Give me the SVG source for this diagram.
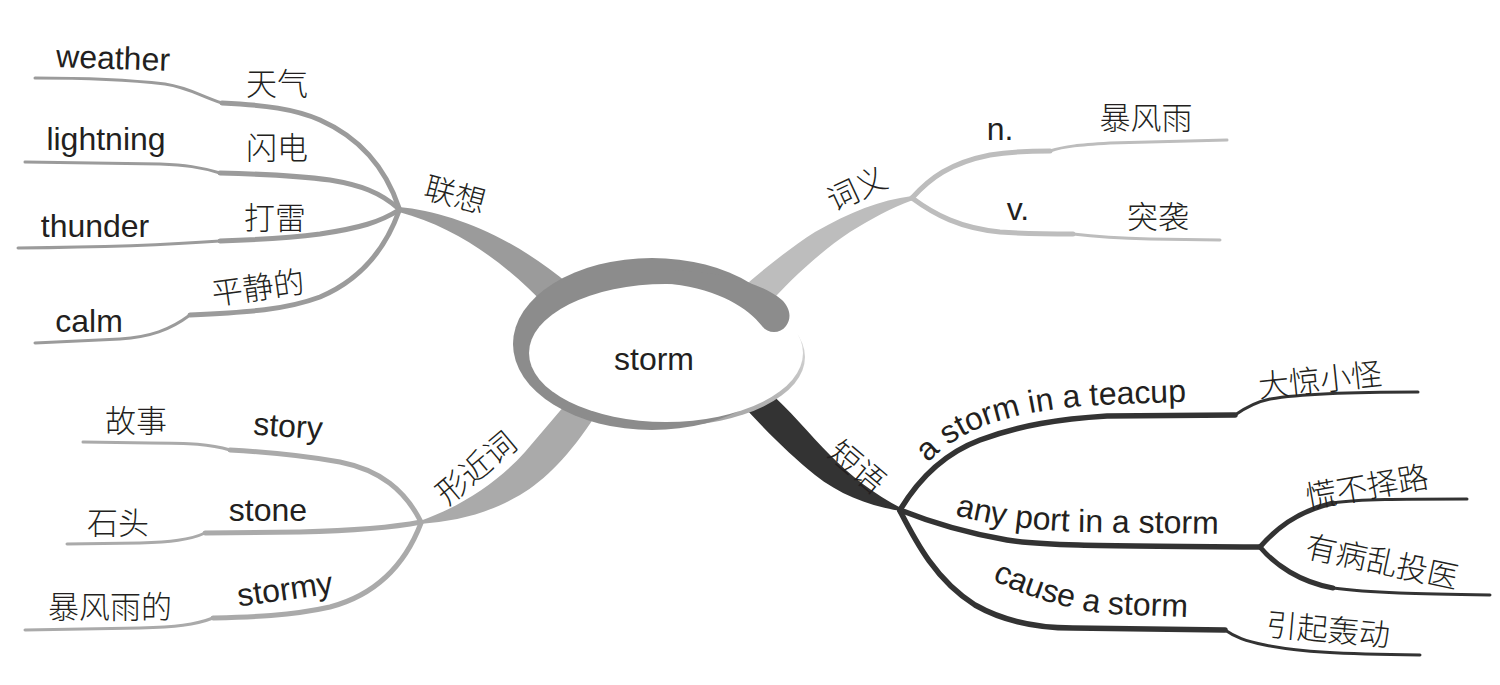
<svg xmlns="http://www.w3.org/2000/svg" width="1500" height="685" viewBox="0 0 1500 685">
<defs>
<linearGradient id="edge" x1="0" y1="1" x2="1" y2="0">
<stop offset="0" stop-color="#8a8a8a"/>
<stop offset="0.55" stop-color="#b5b5b5"/>
<stop offset="1" stop-color="#eeeeee"/>
</linearGradient>
</defs>
<style>
.en{font-family:"Liberation Sans",Arial,sans-serif;font-size:32px;fill:#231f20}
.zh{font-family:"Noto Sans CJK SC","Noto Sans",sans-serif;font-size:31px;font-weight:300;fill:#231f20;text-anchor:middle}
.ctr{text-anchor:middle}
.lx{fill:none;stroke:#9b9b9b;stroke-linecap:round}
.xj{fill:none;stroke:#aaaaaa;stroke-linecap:round}
.cy{fill:none;stroke:#bdbdbd;stroke-linecap:round}
.dy{fill:none;stroke:#333333;stroke-linecap:round}
.w1{stroke-width:5}
.w2{stroke-width:3}
.w3{stroke-width:5.5}
</style>

<g id="connectors">
<!-- main branches -->
<path d="M399,207 C450,212 510,235 570,285 L545,305 C510,268 460,228 399,212 Z" fill="#9b9b9b"/>
<path d="M420,521 C465,505 500,480 525,452 L565,405 L595,416 C570,455 545,480 520,495 C485,515 455,521 420,524 Z" fill="#aaaaaa"/>
<path d="M912,196 C880,200 850,212 815,232 C790,248 765,268 742,288 L765,308 C790,280 820,252 850,232 C870,220 890,208 913,200 Z" fill="#bdbdbd"/>
<path d="M738,400 C760,425 790,455 815,475 C840,495 870,506 901,511 L901,508 C875,495 850,475 830,455 C810,435 790,410 765,388 Z" fill="#333333"/>

<!-- 联想 leaves -->
<path class="lx w1" d="M399,208 C388,175 365,140 320,120 C295,109 265,105 222,103"/>
<path class="lx w2" d="M222,103 C200,96 190,88 165,84 C130,80 80,78 35,78"/>
<path class="lx w1" d="M399,209 C380,192 360,185 330,180 C300,176 260,174 220,173"/>
<path class="lx w2" d="M220,173 C200,167 185,165 160,164 L25,162"/>
<path class="lx w1" d="M399,210 C380,222 360,228 320,234 C280,239 250,240 220,241"/>
<path class="lx w2" d="M220,241 C180,244 120,247 18,248"/>
<path class="lx w1" d="M399,211 C385,250 360,280 320,297 C285,310 250,312 190,315"/>
<path class="lx w2" d="M190,315 C170,330 150,337 120,339 L35,343"/>

<!-- 形近词 leaves -->
<path class="xj w1" d="M421,522 C405,490 380,470 340,462 C300,455 265,452 230,450"/>
<path class="xj w2" d="M230,450 C210,444 190,443 150,443 L83,442"/>
<path class="xj w1" d="M421,522 C390,528 340,531 300,532 L205,533"/>
<path class="xj w2" d="M205,533 C190,540 170,542 140,543 L67,544"/>
<path class="xj w1" d="M421,523 C405,565 375,595 330,607 C290,616 250,617 213,618"/>
<path class="xj w2" d="M213,618 C195,625 175,627 140,628 L25,630"/>

<!-- 词义 leaves -->
<path class="cy w1" d="M912,198 C930,178 950,163 990,155 C1015,151 1035,151 1050,151"/>
<path class="cy w2" d="M1050,151 C1065,146 1080,145 1110,143 L1227,140"/>
<path class="cy w1" d="M912,198 C935,215 960,228 1000,232 C1030,234 1050,234 1073,234"/>
<path class="cy w2" d="M1073,234 C1090,236 1110,238 1150,239 L1220,240"/>

<!-- 短语 leaves -->
<path class="dy w3" d="M900,510 C915,485 940,455 980,440 C1020,425 1060,419 1107,416 L1235,415"/>
<path class="dy w2" d="M1235,415 C1245,408 1255,402 1270,399 C1300,394 1340,392 1418,392"/>
<path class="dy w3" d="M900,510 C925,520 960,532 1007,540 C1040,545 1080,546 1260,547"/>
<path class="dy w1" d="M1260,547 C1275,530 1295,512 1333,503"/>
<path class="dy w2" d="M1333,503 C1360,499 1400,499 1467,499"/>
<path class="dy w1" d="M1260,547 C1275,565 1300,582 1333,588"/>
<path class="dy w2" d="M1333,588 C1370,593 1420,594 1490,595"/>
<path class="dy w3" d="M900,511 C915,540 935,580 975,605 C1005,622 1040,628 1073,628 L1225,630"/>
<path class="dy w2" d="M1225,630 C1235,637 1245,641 1265,645 C1300,652 1340,654 1420,655"/>
</g>

<g id="center">
<ellipse cx="668" cy="357" rx="137" ry="69" fill="url(#edge)"/>
<ellipse cx="652" cy="344" rx="139" ry="86" fill="#8c8c8c"/>
<ellipse cx="666" cy="353" rx="137" ry="69" fill="#ffffff"/>
<path d="M672,284 C720,290 748,308 762,326 C768,334 780,334 786,326 C792,318 790,308 782,300 C760,282 720,272 672,270 Z" fill="#8c8c8c"/>
<text class="en ctr" x="654" y="370">storm</text>
</g>

<g id="node-lianxiang">
<text class="zh" x="455" y="206" transform="rotate(15 455 195)">联想</text>
<text class="zh" x="277" y="95">天气</text>
<text class="zh" x="277" y="159">闪电</text>
<text class="zh" x="275" y="229">打雷</text>
<text class="zh" x="258" y="299" transform="rotate(-8 258 288)">平静的</text>
<text class="en ctr" x="113" y="69" transform="rotate(2 113 60)">weather</text>
<text class="en ctr" x="106" y="150">lightning</text>
<text class="en ctr" x="95" y="237">thunder</text>
<text class="en ctr" x="89" y="332">calm</text>
</g>

<g id="node-xingjinci">
<text class="zh" x="476" y="479" transform="rotate(-40 476 468)">形近词</text>
<text class="zh" x="136" y="432">故事</text>
<text class="zh" x="118" y="534">石头</text>
<text class="zh" x="110" y="618">暴风雨的</text>
<text class="en ctr" x="288" y="437" transform="rotate(4 288 428)">story</text>
<text class="en ctr" x="268" y="521">stone</text>
<text class="en ctr" x="285" y="600" transform="rotate(-8 285 590)">stormy</text>
</g>

<g id="node-ciyi">
<text class="zh" x="857" y="200" transform="rotate(-25 857 189)">词义</text>
<text class="en ctr" x="1000" y="140">n.</text>
<text class="zh" x="1146" y="129">暴风雨</text>
<text class="en ctr" x="1018" y="220">v.</text>
<text class="zh" x="1158" y="228">突袭</text>
</g>

<g id="node-duanyu">
<path id="tp1" d="M928,463 C963,425 1020,410 1100,405 C1140,403 1180,402 1215,401" fill="none"/>
<path id="tp2" d="M955,515 C990,525 1030,530 1080,532 L1240,534" fill="none"/>
<path id="tp3" d="M992,580 C1030,598 1070,610 1110,614 L1210,618" fill="none"/>
<text class="zh" x="857" y="478" transform="rotate(40 857 467)">短语</text>
<text class="en"><textPath href="#tp1">a storm in a teacup</textPath></text>
<text class="en"><textPath href="#tp2">any port in a storm</textPath></text>
<text class="en"><textPath href="#tp3">cause a storm</textPath></text>
<text class="zh" x="1320" y="391" transform="rotate(-6 1320 380)">大惊小怪</text>
<text class="zh" x="1367" y="498" transform="rotate(-10 1367 487)">慌不择路</text>
<text class="zh" x="1382" y="573" transform="rotate(12 1382 562)">有病乱投医</text>
<text class="zh" x="1328" y="641" transform="rotate(5 1328 630)">引起轰动</text>
</g>
</svg>
